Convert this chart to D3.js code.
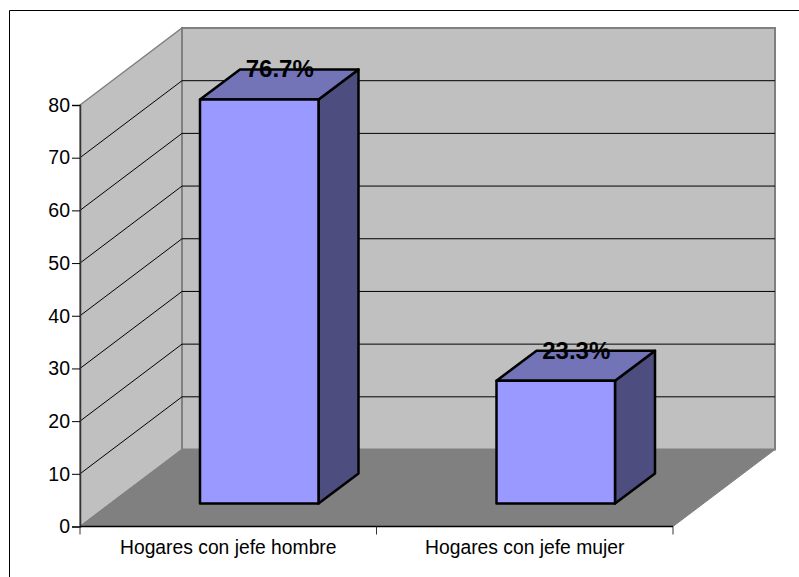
<!DOCTYPE html>
<html>
<head>
<meta charset="utf-8">
<script src="https://cdn.jsdelivr.net/npm/d3@7"></script>
<style>
  html, body { margin: 0; padding: 0; background: #fff; }
  svg { display: block; }
</style>
</head>
<body>
<div id="chart"></div>
<script>
const categories = ["Hogares con jefe hombre", "Hogares con jefe mujer"];
const values = [76.7, 23.3];
const valueLabels = ["76.7%", "23.3%"];
const yTicks = [0, 10, 20, 30, 40, 50, 60, 70, 80];

const width = 799;
const height = 577;

const svg = d3.select("#chart").append("svg")
    .attr("width", width)
    .attr("height", height)
    .style("font-family", "Liberation Sans, Arial, sans-serif");

// outer frame: only top and left edges are in the picture
svg.append("path")
    .attr("d", "M9.5,577V10.5H799")
    .attr("fill", "none").attr("stroke", "#000");

const xScale = d3.scaleBand().domain(categories).range([80, 673]);
const yScale = d3.scaleLinear().domain([0, 80]).range([526.5, 105]);

// depth of the 3D box and of the bars
const depth = { x: 102, y: -77 };
const barDepth = { x: 40, y: -30 };
const barInset = { x: 31, y: -23 };
const barWidth = 118.5;

const poly = pts => pts.map(p => p.join(",")).join(" ");
const y0 = yScale(0), y80 = yScale(80);
const x0 = xScale.range()[0], x1 = xScale.range()[1];

// side wall
svg.append("polygon")
    .attr("points", poly([[x0, y0], [x0, y80], [x0 + depth.x, y80 + depth.y], [x0 + depth.x, y0 + depth.y]]))
    .attr("fill", "#c0c0c0").attr("stroke", "#808080").attr("stroke-width", 1.5);

// back wall
svg.append("rect")
    .attr("x", x0 + depth.x).attr("y", y80 + depth.y)
    .attr("width", x1 - x0).attr("height", y0 - y80)
    .attr("fill", "#c0c0c0").attr("stroke", "#808080").attr("stroke-width", 2);

// floor
svg.append("polygon")
    .attr("points", poly([[x0, y0], [x1, y0], [x1 + depth.x, y0 + depth.y], [x0 + depth.x, y0 + depth.y]]))
    .attr("fill", "#808080").attr("stroke", "#808080");

// gridlines on side and back wall
const grid = yTicks.filter(d => d > 0 && d < 80);
svg.append("g").selectAll("polyline")
    .data(grid)
    .join("polyline")
    .attr("points", d => poly([[x0, yScale(d)], [x0 + depth.x, yScale(d) + depth.y], [x1 + depth.x, yScale(d) + depth.y]]))
    .attr("fill", "none").attr("stroke", "#000").attr("stroke-width", 1);

// y axis
const yAxis = svg.append("g")
    .attr("transform", `translate(${x0}, 0)`)
    .call(d3.axisLeft(yScale).tickValues(yTicks).tickSize(8).tickPadding(2));
yAxis.select(".domain").attr("stroke", "#333").attr("stroke-width", 1.5);
yAxis.selectAll("text").attr("font-size", 19.5).attr("font-family", "Liberation Sans").attr("fill", "#000");

// x axis
const xAxis = svg.append("g")
    .attr("transform", `translate(0, ${y0})`)
    .call(d3.axisBottom(xScale).tickSize(0).tickPadding(14));
xAxis.select(".domain").remove();
xAxis.selectAll("text").attr("font-size", 19.3).attr("font-family", "Liberation Sans").attr("fill", "#000");
svg.append("line")
    .attr("x1", x0).attr("x2", x1).attr("y1", y0).attr("y2", y0)
    .attr("stroke", "#000").attr("stroke-width", 1.5);
svg.append("g").selectAll("line")
    .data(xScale.range().concat([xScale(categories[1])]))
    .join("line")
    .attr("x1", d => d).attr("x2", d => d)
    .attr("y1", y0).attr("y2", y0 + 8)
    .attr("stroke", "#333");

// bars
svg.append("g").selectAll("g")
    .data(categories.map((c, i) => ({ c, v: values[i], label: valueLabels[i] })))
    .join("g")
    .each(function (d) {
        const g = d3.select(this);
        const left = xScale(d.c) + xScale.bandwidth() / 2 - barWidth / 2 + barInset.x;
        const right = left + barWidth;
        const bottom = y0 + barInset.y;
        const top = bottom - (y0 - yScale(d.v));
        const dx = barDepth.x, dy = barDepth.y;
        const face = (pts, fill) => g.append("polygon")
            .attr("points", poly(pts))
            .attr("fill", fill).attr("stroke", "#000").attr("stroke-width", 2.5)
            .attr("stroke-linejoin", "round");
        face([[right, top], [right + dx, top + dy], [right + dx, bottom + dy], [right, bottom]], "#4d4d7f");
        face([[left, top], [left + dx, top + dy], [right + dx, top + dy], [right, top]], "#7373b8");
        face([[left, top], [right, top], [right, bottom], [left, bottom]], "#9999ff");
        g.append("text")
            .attr("x", (left + right) / 2 + 20.5)
            .attr("y", top + dy + 8)
            .attr("text-anchor", "middle")
            .attr("font-size", 24)
            .attr("font-weight", "bold")
            .attr("font-family", "Liberation Sans")
            .attr("fill", "#000")
            .text(d.label);
    });
</script>
</body>
</html>
